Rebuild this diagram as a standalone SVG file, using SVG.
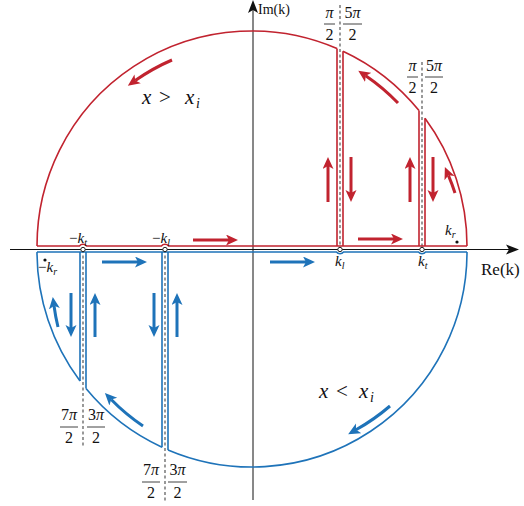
<svg xmlns="http://www.w3.org/2000/svg" width="524" height="506" viewBox="0 0 524 506" font-family="'Liberation Serif', 'DejaVu Serif', serif">
<style>
.red{stroke:#c1232f;stroke-width:1.6;fill:none}
.blue{stroke:#1e73b9;stroke-width:1.6;fill:none}
.ar{stroke:#c1232f;stroke-width:3;fill:none;marker-end:url(#mr)}
.ab{stroke:#1e73b9;stroke-width:3;fill:none;marker-end:url(#mb)}
.dash{stroke:#555;stroke-width:1.2;stroke-dasharray:3 2.5;fill:none}
.ax{stroke:#111;stroke-width:1;fill:none}
.pt{fill:#fff;stroke:#222;stroke-width:1}
text{font-family:'Liberation Serif','DejaVu Serif',serif;fill:#111}
.m{font-style:italic}
.fr{font-size:16px;text-anchor:middle}
.bar{stroke:#111;stroke-width:0.8}
</style>
<defs>
<marker id="mr" markerUnits="userSpaceOnUse" markerWidth="14" markerHeight="12" refX="3" refY="5.5" orient="auto"><path d="M0,0 L12,5.5 L0,11 L3,5.5 Z" fill="#c1232f"/></marker>
<marker id="mb" markerUnits="userSpaceOnUse" markerWidth="14" markerHeight="12" refX="3" refY="5.5" orient="auto"><path d="M0,0 L12,5.5 L0,11 L3,5.5 Z" fill="#1e73b9"/></marker>
</defs>
<g id="axes">
<line class="ax" x1="10" y1="249.5" x2="510" y2="249.5"/>
<path d="M519,249.5 L506,244.5 L509,249.5 L506,254.5 Z" fill="#111"/>
<line class="ax" x1="253" y1="500" x2="253" y2="9"/>
<path d="M253,0 L248,13 L253,10 L258,13 Z" fill="#111"/>
<text x="258" y="14" font-size="14">Im(k)</text>
<text x="481" y="275" font-size="17">Re(k)</text>
</g>
<g id="dashes">
<line class="dash" x1="340" y1="5" x2="340" y2="249"/>
<line class="dash" x1="422" y1="62" x2="422" y2="249"/>
<line class="dash" x1="83" y1="250" x2="83" y2="447"/>
<line class="dash" x1="165" y1="250" x2="165" y2="502"/>
</g>
<g id="upper-contour">
<path class="red" d="M37,246 H79.4 A4.7 4.7 0 0 1 86.6,246 H161.4 A4.7 4.7 0 0 1 168.6,246 H467"/>
<path class="red" d="M337,246 V48.5 M343,246 V51.2 M419,246 V110.6 M425,246 V118.3"/>
<path class="red" d="M37,246 A215 215 0 0 1 337,48.5 M343,51.2 A215 215 0 0 1 419,110.6 M425,118.3 A215 215 0 0 1 467,246"/>
</g>
<g id="lower-contour">
<path class="blue" d="M37,252 H336.4 A4.7 4.7 0 0 0 343.6,252 H418.4 A4.7 4.7 0 0 0 425.6,252 H467"/>
<path class="blue" d="M80,252 V381 M86,252 V388.6 M162,252 V447.3 M168,252 V449.9"/>
<path class="blue" d="M37,252 A215 215 0 0 0 80,381 M86,388.6 A215 215 0 0 0 162,447.3 M168,449.9 A215 215 0 0 0 467,252"/>
</g>
<g id="points">
<circle class="pt" cx="83" cy="249.5" r="2.2"/>
<circle class="pt" cx="165" cy="249.5" r="2.2"/>
<circle class="pt" cx="340" cy="249.5" r="2.2"/>
<circle class="pt" cx="422" cy="249.5" r="2.2"/>
<circle cx="45" cy="260" r="1.6" fill="#111"/>
<circle cx="457" cy="242" r="1.6" fill="#111"/>
</g>
<g id="connectors">
<path class="ar" d="M172,60 A202 202 0 0 0 135.2,80.6"/>
<path class="ar" d="M398,103 A204.5 204.5 0 0 0 365.7,75.7"/>
<path class="ar" d="M455,193 A209 209 0 0 0 448.4,175.3"/>
<path class="ar" d="M328,202 V166"/>
<path class="ar" d="M351,157 V193"/>
<path class="ar" d="M410,202 V166"/>
<path class="ar" d="M433,157 V193"/>
<path class="ar" d="M193,240 H229"/>
<path class="ar" d="M358,239 H394"/>
<path class="ab" d="M102,262 H138"/>
<path class="ab" d="M270,262 H306"/>
<path class="ab" d="M71,293 V328"/>
<path class="ab" d="M95,337 V302"/>
<path class="ab" d="M154,293 V328"/>
<path class="ab" d="M177,337 V302"/>
<path class="ab" d="M58,327 A206 206 0 0 1 54,305.8"/>
<path class="ab" d="M143,426 A204.5 204.5 0 0 1 111.2,399.5"/>
<path class="ab" d="M390,406 A206 206 0 0 1 356,429.8"/>
</g>
<g id="k-labels" font-size="15">
<text x="69" y="243">−<tspan class="m">k</tspan><tspan class="m" font-size="10" dy="3">t</tspan></text>
<text x="152" y="243">−<tspan class="m">k</tspan><tspan class="m" font-size="10" dy="3">l</tspan></text>
<text x="38" y="272">−<tspan class="m">k</tspan><tspan class="m" font-size="10" dy="3">r</tspan></text>
<text x="335" y="266"><tspan class="m">k</tspan><tspan class="m" font-size="10" dy="3">l</tspan></text>
<text x="418" y="266"><tspan class="m">k</tspan><tspan class="m" font-size="10" dy="3">t</tspan></text>
<text x="445" y="235"><tspan class="m">k</tspan><tspan class="m" font-size="10" dy="3">r</tspan></text>
</g>
<g id="region-labels" font-size="21">
<text x="142" y="104" class="m">x</text>
<text x="159" y="104">&gt;</text>
<text x="185" y="104" class="m">x</text>
<text x="196" y="108" class="m" font-size="14">i</text>
<text x="319" y="398" class="m">x</text>
<text x="336" y="398">&lt;</text>
<text x="359" y="398" class="m">x</text>
<text x="370" y="402" class="m" font-size="14">i</text>
</g>
<g id="fractions">
<text class="fr m" x="329.5" y="18">π</text><line class="bar" x1="324" y1="24" x2="335" y2="24"/><text class="fr" x="329.5" y="40">2</text>
<text class="fr" x="352.5" y="18">5<tspan class="m">π</tspan></text><line class="bar" x1="343" y1="24" x2="362" y2="24"/><text class="fr" x="352.5" y="40">2</text>
<text class="fr m" x="412.5" y="71">π</text><line class="bar" x1="407" y1="77" x2="418" y2="77"/><text class="fr" x="412.5" y="93">2</text>
<text class="fr" x="434" y="71">5<tspan class="m">π</tspan></text><line class="bar" x1="425" y1="77" x2="443" y2="77"/><text class="fr" x="434" y="93">2</text>
<text class="fr" x="69" y="420">7<tspan class="m">π</tspan></text><line class="bar" x1="60" y1="427" x2="78" y2="427"/><text class="fr" x="69" y="443">2</text>
<text class="fr" x="96" y="420">3<tspan class="m">π</tspan></text><line class="bar" x1="87" y1="427" x2="105" y2="427"/><text class="fr" x="96" y="443">2</text>
<text class="fr" x="151" y="475">7<tspan class="m">π</tspan></text><line class="bar" x1="142" y1="482" x2="160" y2="482"/><text class="fr" x="151" y="498">2</text>
<text class="fr" x="177.5" y="475">3<tspan class="m">π</tspan></text><line class="bar" x1="168" y1="482" x2="187" y2="482"/><text class="fr" x="177.5" y="498">2</text>
</g>
</svg>
